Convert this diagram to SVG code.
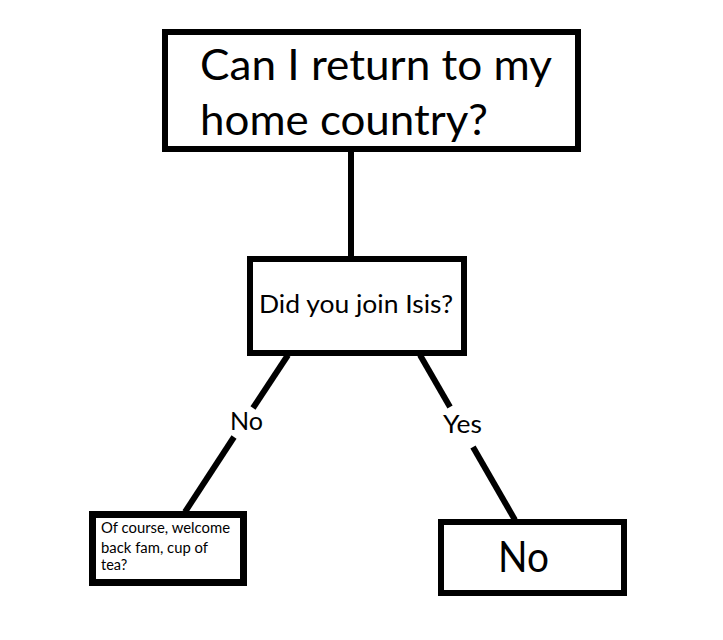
<svg xmlns="http://www.w3.org/2000/svg" width="723" height="640" viewBox="0 0 723 640">
<style>
.box{fill:#fff;stroke:#000;stroke-width:6}
.ln{stroke:#000;stroke-width:6;fill:none}
text{font-family:Lato,"Open Sans","Liberation Sans",sans-serif;fill:#000}
</style>
<rect width="723" height="640" fill="#fff"/>
<g id="connectors">
<line class="ln" x1="351" y1="150" x2="351" y2="258"/>
<line class="ln" x1="288" y1="355" x2="253" y2="408"/>
<line class="ln" x1="234" y1="437" x2="185" y2="512"/>
<line class="ln" x1="420" y1="355" x2="450" y2="407"/>
<line class="ln" x1="473" y1="447" x2="515" y2="520"/>
<text x="230" y="430" font-size="25" textLength="33" lengthAdjust="spacingAndGlyphs">No</text>
<text x="443" y="433" font-size="25" textLength="39" lengthAdjust="spacingAndGlyphs">Yes</text>
</g>
<g id="q1">
<rect class="box" x="165" y="32" width="413" height="117"/>
<text x="200" y="80" font-size="42" textLength="352" lengthAdjust="spacingAndGlyphs">Can I return to my</text>
<text x="200" y="135" font-size="42" textLength="288" lengthAdjust="spacingAndGlyphs">home country?</text>
</g>
<g id="q2">
<rect class="box" x="250" y="259" width="214" height="94"/>
<text x="259" y="313" font-size="25" textLength="194" lengthAdjust="spacingAndGlyphs">Did you join Isis?</text>
</g>
<g id="no-answer">
<rect class="box" x="92.5" y="514.5" width="151" height="68" style="stroke-width:7"/>
<text x="101" y="533" font-size="14.5" textLength="129" lengthAdjust="spacingAndGlyphs">Of course, welcome</text>
<text x="101" y="553" font-size="14.5" textLength="107" lengthAdjust="spacingAndGlyphs">back fam, cup of</text>
<text x="101" y="570" font-size="14.5">tea?</text>
</g>
<g id="yes-answer">
<rect class="box" x="441" y="522" width="183" height="71"/>
<text x="498" y="572" font-size="42" textLength="51" lengthAdjust="spacingAndGlyphs">No</text>
</g>
</svg>
